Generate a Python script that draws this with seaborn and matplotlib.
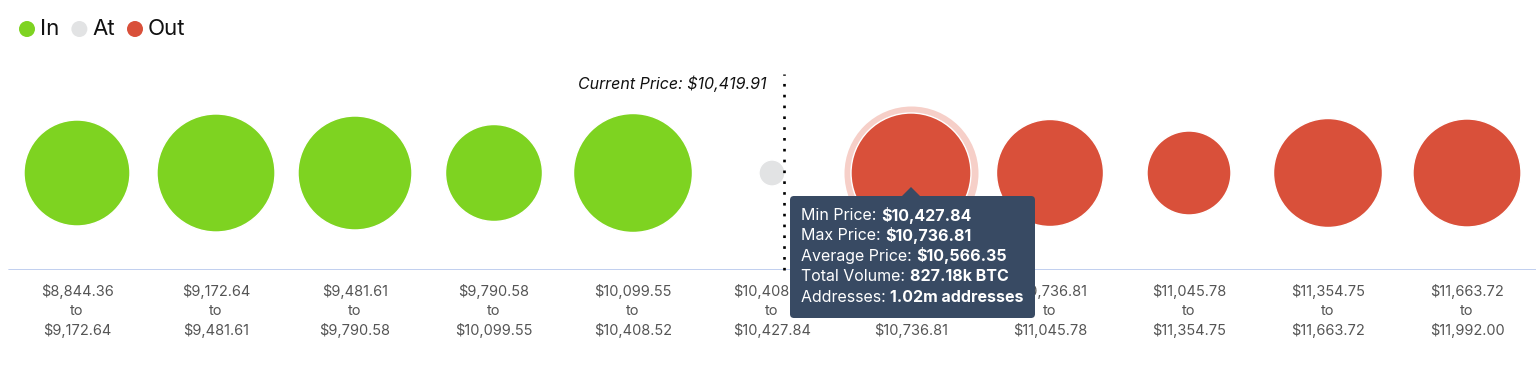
import matplotlib
matplotlib.use("Agg")
import matplotlib.pyplot as plt
from matplotlib.patches import FancyBboxPatch, Polygon, Circle
import pandas as pd
import seaborn as sns

# price bins (lower/upper edges), status and total volume (k BTC)
bin_low = [8844.36, 9172.64, 9481.61, 9790.58, 10099.55, 10408.52,
           10427.84, 10736.81, 11045.78, 11354.75, 11663.72]
bin_high = [9172.64, 9481.61, 9790.58, 10099.55, 10408.52, 10427.84,
            10736.81, 11045.78, 11354.75, 11663.72, 11992.00]
status = ["In", "In", "In", "In", "In", "At",
          "Out", "Out", "Out", "Out", "Out"]
volume_k = [645, 800, 746, 540, 813, 39, 827.18, 658, 405, 682, 670]
current_price = 10419.91
hover_idx = 6
hover_lines = [
    ("Min Price: ", "$10,427.84"),
    ("Max Price: ", "$10,736.81"),
    ("Average Price: ", "$10,566.35"),
    ("Total Volume: ", "827.18k BTC"),
    ("Addresses: ", "1.02m addresses"),
]

palette = {"In": "#7ED321", "At": "#E2E3E4", "Out": "#D9503A"}

W, H, DPI = 1536, 376, 100
PT = 72 / DPI  # points per pixel

sns.set_style("white")
plt.rcParams["font.family"] = ["Inter", "DejaVu Sans"]

df = pd.DataFrame({
    "pos": range(len(bin_low)),
    "y": 0.0,
    "status": status,
    "volume": volume_k,
    "label": [f"${lo:,.2f}\nto\n${hi:,.2f}" for lo, hi in zip(bin_low, bin_high)],
})

fig = plt.figure(figsize=(W / DPI, H / DPI), dpi=DPI)
# main axes: bottom edge at the baseline (y=270px), bubbles centred at y=173px
ax = fig.add_axes([0, (H - 270) / H, 1, (270 - 60) / H])
ax.set_xlim(-77 / 139, (W - 77) / 139)
ax.set_ylim(-97, 113)

max_size = (120 * PT) ** 2
vmax = max(volume_k)

# halo behind hovered bubble
hov = df.iloc[[hover_idx]]
ax.scatter(hov["pos"], hov["y"], s=max_size * hov["volume"] / vmax * (67 / 60) ** 2,
           color="#F6CFC8", linewidth=0, zorder=1)

sns.scatterplot(data=df, x="pos", y="y", hue="status", palette=palette,
                size="volume", sizes=(0, max_size), size_norm=(0, vmax),
                edgecolor="white", linewidth=1, legend=False, ax=ax, zorder=2)

# current price marker
frac = (current_price - bin_low[5]) / (bin_high[5] - bin_low[5])
cx = 5 - 0.5 + frac
ax.plot([cx, cx], [-97, 99], color="black", linestyle=(0, (1, 3.1)),
        linewidth=1.9, zorder=3, clip_on=False)
ax.annotate(f"Current Price: ${current_price:,.2f}", xy=(cx, 89),
            xytext=(-18 * PT, 0), textcoords="offset points",
            ha="right", va="center", fontsize=11.5, style="italic", color="#111111")

ax.axhline(-97, xmin=9 / W, color="#BCCBEE", linewidth=1.3, zorder=0)
ax.set_xticks(df["pos"])
ax.set_xticklabels(df["label"], fontsize=10.5, color="#555555", linespacing=1.45)
ax.tick_params(axis="x", length=0, pad=10)
ax.set_yticks([])
ax.set_xlabel("")
ax.set_ylabel("")
for s in ax.spines.values():
    s.set_visible(False)

# overlay in pixel coordinates for legend and tooltip
ov = fig.add_axes([0, 0, 1, 1], facecolor="none")
ov.set_xlim(0, W)
ov.set_ylim(H, 0)
ov.axis("off")

lx = 27
for name in ["In", "At", "Out"]:
    ov.add_patch(Circle((lx, 29), 8, color=palette[name], linewidth=0))
    t = ov.text(lx + 13, 29, name, fontsize=16, va="center", ha="left", color="#111111")
    fig.canvas.draw()
    bb = t.get_window_extent()
    lx = bb.x1 + 20

# tooltip
tip_color = "#384A63"
ov.add_patch(FancyBboxPatch((794, 200), 237, 114,
                            boxstyle="round,pad=4,rounding_size=4",
                            facecolor=tip_color, edgecolor="none", zorder=10))
ov.add_patch(Polygon([(901, 197), (911, 187), (921, 197)], closed=True,
                     facecolor=tip_color, edgecolor="none", zorder=10))
renderer = fig.canvas.get_renderer()
for i, (lab, val) in enumerate(hover_lines):
    yy = 215 + i * 20.5
    t = ov.text(801, yy, lab, color="white", fontsize=11.5, va="center", ha="left", zorder=11)
    bb = t.get_window_extent(renderer=renderer)
    ov.text(bb.x1, yy, val, color="white", fontsize=11.5, fontweight="bold",
            va="center", ha="left", zorder=11)

fig.savefig("out.png", dpi=DPI)
